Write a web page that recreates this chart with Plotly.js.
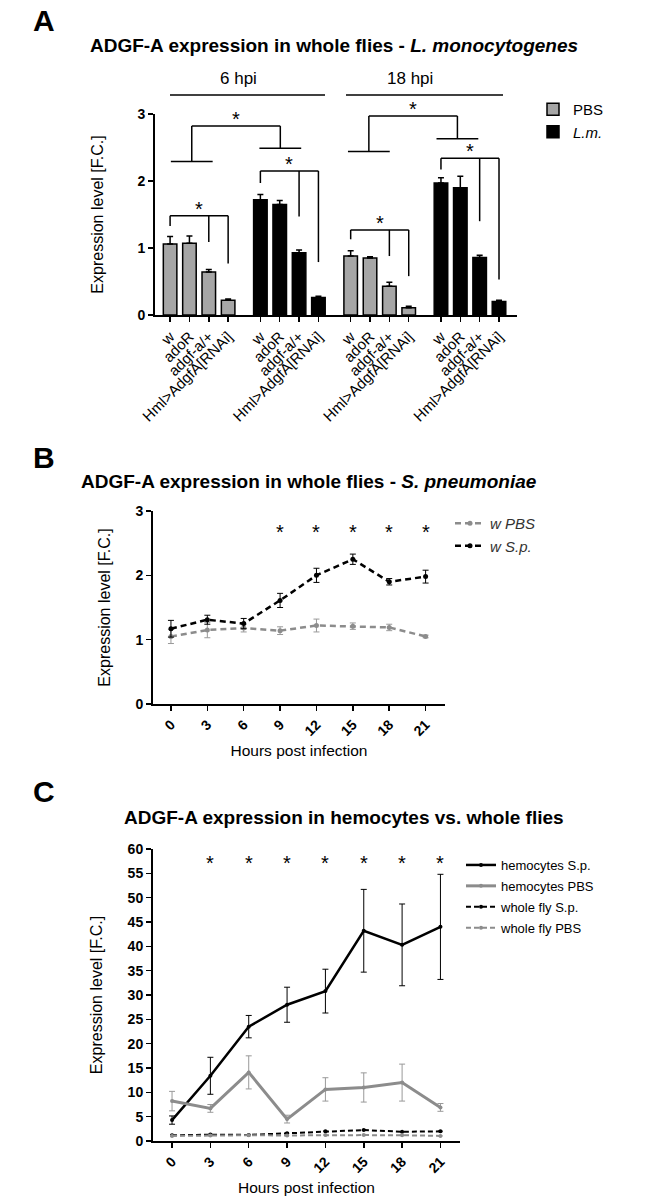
<!DOCTYPE html>
<html><head><meta charset="utf-8">
<script src="https://cdn.plot.ly/plotly-3.0.1.min.js"></script>
<style>html,body{margin:0;padding:0;background:#fff}#chart{width:646px;height:1200px}</style>
</head><body><div id="chart"></div>
<script>
// ---------- Panel A data ----------
const genotypes = ["w", "adoR", "adgf-a/+", "Hml>AdgfA[RNAi]"];
const pbs6 = [1.06, 1.07, 0.64, 0.22];
const pbs6Err = [0.11, 0.11, 0.04, 0.02];
const lm6 = [1.72, 1.65, 0.93, 0.26];
const lm6Err = [0.08, 0.06, 0.04, 0.02];
const pbs18 = [0.88, 0.85, 0.43, 0.11];
const pbs18Err = [0.08, 0.02, 0.06, 0.02];
const lm18 = [1.97, 1.90, 0.86, 0.20];
const lm18Err = [0.08, 0.17, 0.03, 0.02];

// ---------- Panel B data ----------
const hours = [0, 3, 6, 9, 12, 15, 18, 21];
const wPBS = [1.05, 1.15, 1.18, 1.14, 1.22, 1.21, 1.19, 1.05];
const wPBSErr = [0.11, 0.12, 0.06, 0.06, 0.10, 0.05, 0.05, 0.02];
const wSp = [1.17, 1.31, 1.25, 1.61, 2.00, 2.25, 1.90, 1.98];
const wSpErr = [0.13, 0.07, 0.08, 0.11, 0.11, 0.08, 0.05, 0.10];
const sigHoursB = [9, 12, 15, 18, 21];

// ---------- Panel C data ----------
const hemoSp = [4.3, 13.4, 23.5, 28.0, 30.8, 43.2, 40.3, 44.0];
const hemoSpErr = [0.85, 3.8, 2.3, 3.6, 4.5, 8.5, 8.4, 10.8];
const hemoPBS = [8.2, 6.7, 14.1, 4.5, 10.6, 11.0, 12.0, 6.9];
const hemoPBSErr = [2.0, 0.8, 3.4, 0.8, 2.4, 3.0, 3.8, 0.8];
const sigHoursC = [3, 6, 9, 12, 15, 18, 21];

// ---------- layout helpers ----------
const W = 646, H = 1200;
const px = v => v / W;
const py = v => 1 - v / H;
const FONT = "Liberation Sans, Arial, Helvetica, sans-serif";
const GAP = 14 / 3; // group spacing in category units
const pos = (g, i) => g * GAP + i;

const pbsX = [], lmX = [], tickVals = [], tickText = [];
for (let g = 0; g < 4; g++) for (let i = 0; i < 4; i++) { tickVals.push(pos(g, i)); tickText.push(genotypes[i]); }
[0, 2].forEach(g => genotypes.forEach((_, i) => pbsX.push(pos(g, i))));
[1, 3].forEach(g => genotypes.forEach((_, i) => lmX.push(pos(g, i))));

const zeros = n => new Array(n).fill(0);
const traces = [];

traces.push({
  type: 'bar', name: 'PBS', x: pbsX, y: pbs6.concat(pbs18), width: 0.7,
  marker: {color: '#a6a6a6', line: {color: '#000', width: 1.5}},
  error_y: {type: 'data', symmetric: false, array: pbs6Err.concat(pbs18Err), arrayminus: zeros(8), color: '#000', thickness: 1.5, width: 3},
  xaxis: 'x', yaxis: 'y', legend: 'legend'
});
traces.push({
  type: 'bar', name: '<i>L.m.</i>', x: lmX, y: lm6.concat(lm18), width: 0.7,
  marker: {color: '#000', line: {color: '#000', width: 1.5}},
  error_y: {type: 'data', symmetric: false, array: lm6Err.concat(lm18Err), arrayminus: zeros(8), color: '#000', thickness: 1.5, width: 3},
  xaxis: 'x', yaxis: 'y', legend: 'legend'
});

// Panel B
traces.push({
  type: 'scatter', mode: 'lines+markers', name: '<i>w PBS</i>', x: hours, y: wPBS,
  line: {color: '#8c8c8c', width: 2.5, dash: '6px,4px'}, marker: {color: '#8c8c8c', size: 5},
  error_y: {type: 'data', array: wPBSErr, color: '#999', thickness: 1, width: 3},
  xaxis: 'x2', yaxis: 'y2', legend: 'legend2'
});
traces.push({
  type: 'scatter', mode: 'lines+markers', name: '<i>w S.p.</i>', x: hours, y: wSp,
  line: {color: '#000', width: 2.5, dash: '6px,4px'}, marker: {color: '#000', size: 5},
  error_y: {type: 'data', array: wSpErr, color: '#000', thickness: 1, width: 3},
  xaxis: 'x2', yaxis: 'y2', legend: 'legend2'
});

// Panel C
traces.push({
  type: 'scatter', mode: 'lines+markers', name: 'hemocytes S.p.', x: hours, y: hemoSp, legendgroup: 'c1',
  line: {color: '#000', width: 2.5}, marker: {color: '#000', size: 4},
  error_y: {type: 'data', array: hemoSpErr, color: '#000', thickness: 1, width: 3},
  xaxis: 'x3', yaxis: 'y3', legend: 'legend3'
});
traces.push({
  type: 'scatter', mode: 'lines+markers', name: 'hemocytes PBS', x: hours, y: hemoPBS, legendgroup: 'c2',
  line: {color: '#8c8c8c', width: 3}, marker: {color: '#8c8c8c', size: 4},
  error_y: {type: 'data', array: hemoPBSErr, color: '#999', thickness: 1, width: 3},
  xaxis: 'x3', yaxis: 'y3', legend: 'legend3'
});
traces.push({
  type: 'scatter', mode: 'lines+markers', name: 'whole fly S.p.', x: hours, y: wSp, legendgroup: 'c3',
  line: {color: '#000', width: 2, dash: '5px,3px'}, marker: {color: '#000', size: 4},
  error_y: {type: 'data', array: wSpErr, color: '#000', thickness: 1, width: 2},
  xaxis: 'x3', yaxis: 'y3', legend: 'legend3'
});
traces.push({
  type: 'scatter', mode: 'lines+markers', name: 'whole fly PBS', x: hours, y: wPBS, legendgroup: 'c4',
  line: {color: '#8c8c8c', width: 2, dash: '5px,3px'}, marker: {color: '#8c8c8c', size: 4},
  error_y: {type: 'data', array: wPBSErr, color: '#999', thickness: 1, width: 2},
  xaxis: 'x3', yaxis: 'y3', legend: 'legend3'
});

// ---------- shapes & annotations ----------
const shapes = [], annotations = [];
const seg = (x0, y0, x1, y1, xref, yref) => shapes.push({type: 'line', xref: xref || 'x', yref: yref || 'y', x0, y0, x1, y1, line: {color: '#000', width: 1.5}});
const STAR = 20;
const star = (x, y, xref, yref, shift) => annotations.push({xref: xref || 'x', yref: yref || 'y', x, y, text: '*', showarrow: false, yanchor: 'middle', yshift: shift, font: {family: FONT, size: STAR, color: '#000'}});

// within-group brackets: [group, top, leftEnd, midEnd, rightEnd]
const brackets = [[0, 1.48, 1.33, 1.09, 0.77], [1, 2.15, 1.97, 1.47, 0.79], [2, 1.27, 1.13, 0.88, 0.58], [3, 2.34, 2.17, 1.40, 0.53]];
brackets.forEach(([g, top, yl, ym, yr]) => {
  const x0 = pos(g, 0), x1 = pos(g, 3), xm = pos(g, 2);
  seg(x0, yl, x0, top); seg(x0, top, x1, top); seg(xm, top, xm, ym); seg(x1, top, x1, yr);
  star((x0 + x1) / 2, top, 'x', 'y', 7);
});
// between-treatment brackets: [pbsGroup, lmGroup, pbsLevel, lmLevel, top, pbsCenterOffset, lmCenterOffset]
const groupBr = [[0, 1, 2.29, 2.49, 2.82, 1.12, 1.03], [2, 3, 2.44, 2.63, 2.97, 0.94, 0.85]];
groupBr.forEach(([ga, gb, ya, yb, top, oa, ob]) => {
  const ca = pos(ga, 0) + oa, cb = pos(gb, 0) + ob, hw = 1.08;
  seg(ca - hw, ya, ca + hw, ya); seg(ca, ya, ca, top); seg(ca, top, cb, top); seg(cb, top, cb, yb); seg(cb - hw, yb, cb + hw, yb);
  star((ca + cb) / 2, top, 'x', 'y', 7);
});
// hpi header lines
seg(px(170), py(95), px(325), py(95), 'paper', 'paper');
seg(px(346), py(95), px(503), py(95), 'paper', 'paper');
const txt = (x, y, text, size, extra) => annotations.push(Object.assign({xref: 'paper', yref: 'paper', x: px(x), y: py(y), text, showarrow: false, xanchor: 'center', yanchor: 'middle', font: {family: FONT, size, color: '#000'}}, extra || {}));
txt(238, 79, '6 hpi', 17);
txt(410, 79, '18 hpi', 17);
txt(44, 21, '<b>A</b>', 30);
txt(44, 457, '<b>B</b>', 30);
txt(44, 791, '<b>C</b>', 30);
txt(309, 481, '<b>ADGF-A expression in whole flies - <i>S. pneumoniae</i></b>', 19);
txt(344, 817, '<b>ADGF-A expression in hemocytes vs. whole flies</b>', 19);

sigHoursB.forEach(h => star(h, 2.73, 'x2', 'y2', -4));
sigHoursC.forEach(h => star(h, 57.9, 'x3', 'y3', -4));

// ---------- axes ----------
const baseAxis = {
  showline: true, linecolor: '#000', linewidth: 2, ticks: 'outside', ticklen: 5, tickwidth: 1.5, tickcolor: '#000',
  showgrid: false, zeroline: false, fixedrange: true
};
const boldTick = {family: FONT, size: 14, color: '#000', weight: 'bold'};
const axTitle = (text, standoff, size) => ({text, standoff, font: {family: FONT, size: size || 16, color: '#000'}});

const layout = {
  width: W, height: H, margin: {l: 0, r: 0, t: 0, b: 0},
  paper_bgcolor: '#fff', plot_bgcolor: '#fff',
  font: {family: FONT, color: '#000'},
  barmode: 'overlay', showlegend: true,
  title: {text: '<b>ADGF-A expression in whole flies - <i>L. monocytogenes</i></b>', font: {family: FONT, size: 19, color: '#000'},
          xref: 'paper', yref: 'paper', x: px(334), xanchor: 'center', y: py(45), yanchor: 'middle'},
  xaxis: Object.assign({}, baseAxis, {domain: [px(155), px(517)], range: [-0.78, 17.93], anchor: 'y',
          tickvals: tickVals, ticktext: tickText, tickangle: -45, tickfont: {family: FONT, size: 15, color: '#000'}}),
  yaxis: Object.assign({}, baseAxis, {domain: [py(315), py(114)], range: [0, 3], anchor: 'x', tickvals: [0, 1, 2, 3],
          tickfont: boldTick, title: axTitle('Expression level [F.C.]', 30)}),
  xaxis2: Object.assign({}, baseAxis, {domain: [px(153), px(445)], range: [-1.48, 22.6], anchor: 'y2', tickvals: hours,
          tickangle: -45, tickfont: boldTick, title: axTitle('Hours post infection', 7, 15.5)}),
  yaxis2: Object.assign({}, baseAxis, {domain: [py(704), py(511)], range: [0, 3], anchor: 'x2', tickvals: [0, 1, 2, 3],
          tickfont: boldTick, title: axTitle('Expression level [F.C.]', 21)}),
  xaxis3: Object.assign({}, baseAxis, {domain: [px(153), px(460)], range: [-1.49, 22.53], anchor: 'y3', tickvals: hours,
          tickangle: -45, tickfont: boldTick, title: axTitle('Hours post infection', 7, 15.5)}),
  yaxis3: Object.assign({}, baseAxis, {domain: [py(1141), py(849)], range: [0, 60], anchor: 'x3', dtick: 5, tick0: 0,
          tickfont: boldTick, title: axTitle('Expression level [F.C.]', 21)}),
  legend: {x: px(533), y: py(93), xanchor: 'left', yanchor: 'top', bgcolor: 'rgba(0,0,0,0)', font: {family: FONT, size: 15, color: '#000'}, itemwidth: 30, tracegroupgap: 0},
  legend2: {x: px(450), y: py(507), xanchor: 'left', yanchor: 'top', bgcolor: 'rgba(0,0,0,0)', font: {family: FONT, size: 15, color: '#333'}, itemwidth: 30},
  legend3: {x: px(461), y: py(850), xanchor: 'left', yanchor: 'top', bgcolor: 'rgba(0,0,0,0)', font: {family: FONT, size: 13, color: '#000'}, itemwidth: 30, tracegroupgap: 1},
  shapes, annotations
};

Plotly.newPlot('chart', traces, layout, {displayModeBar: false, staticPlot: true});
</script>
</body></html>
